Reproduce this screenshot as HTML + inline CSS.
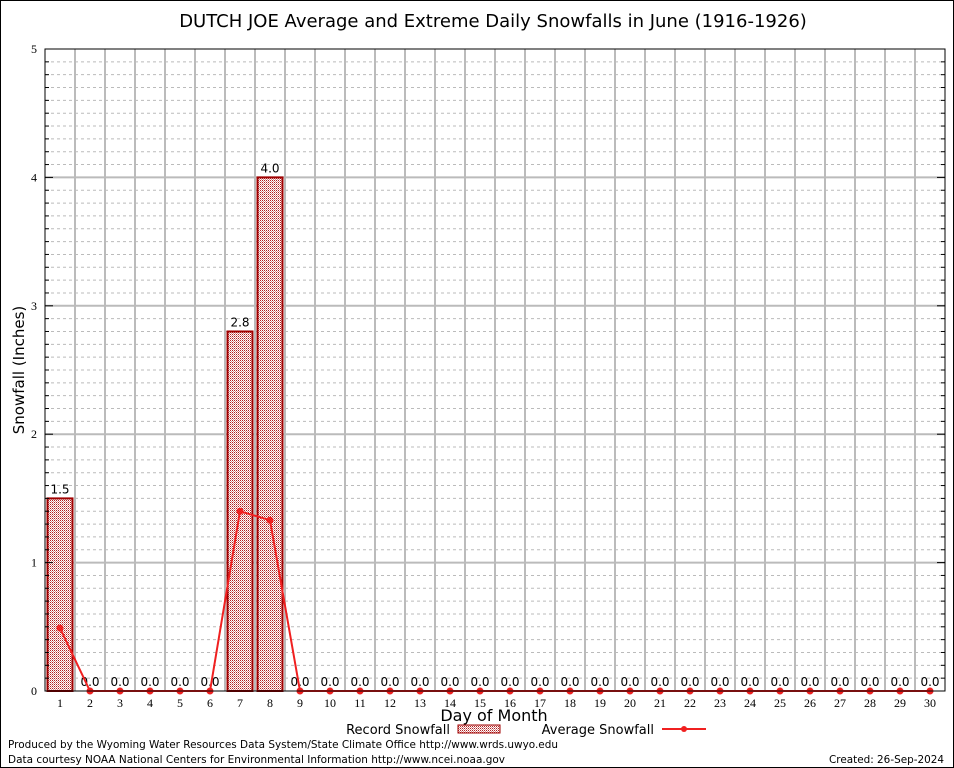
<!DOCTYPE html>
<html><head><meta charset="utf-8"><style>
body{margin:0;background:#fff;}
svg{display:block;font-family:"DejaVu Sans","Liberation Sans",sans-serif;}
</style></head><body>
<svg id="chart" width="954" height="768" viewBox="0 0 954 768">
<defs>
<pattern id="chk" width="2" height="2" patternUnits="userSpaceOnUse">
<rect width="2" height="2" fill="#fff"/><rect width="1" height="1" fill="#b02020"/><rect x="1" y="1" width="1" height="1" fill="#d89090"/>
</pattern>
</defs>
<rect x="0.5" y="0.5" width="953" height="767" fill="#fff" stroke="#000"/>
<text x="493" y="27" font-size="18" text-anchor="middle">DUTCH JOE Average and Extreme Daily Snowfalls in June (1916-1926)</text>
<g id="grid"></g>
<g id="bars"></g>
<g id="line"></g>
<rect x="45" y="49" width="900" height="642" fill="none" stroke="#000"/>
<g id="axes"></g>
<text x="24" y="370" font-size="15" text-anchor="middle" transform="rotate(-90 24 370)">Snowfall (Inches)</text>
<text x="494" y="721" font-size="16" text-anchor="middle">Day of Month</text>
<g>
<text x="450" y="734" font-size="13" text-anchor="end">Record Snowfall</text>
<rect x="458" y="725" width="42" height="8" fill="url(#chk)" stroke="#a00000"/>
<text x="654" y="734" font-size="13" text-anchor="end">Average Snowfall</text>
<line x1="662" y1="729" x2="706" y2="729" stroke="#f02020" stroke-width="2"/>
<circle cx="684" cy="729" r="3" fill="#f02020"/>
</g>
<text x="8" y="748" font-size="11" textLength="550" lengthAdjust="spacingAndGlyphs">Produced by the Wyoming Water Resources Data System/State Climate Office http://www.wrds.uwyo.edu</text>
<text x="8" y="763" font-size="11" textLength="497" lengthAdjust="spacingAndGlyphs">Data courtesy NOAA National Centers for Environmental Information http://www.ncei.noaa.gov</text>
<text x="829" y="763" font-size="11" textLength="115" lengthAdjust="spacingAndGlyphs">Created: 26-Sep-2024</text>
</svg>
<script>
const days=[1,2,3,4,5,6,7,8,9,10,11,12,13,14,15,16,17,18,19,20,21,22,23,24,25,26,27,28,29,30];
const recordSnow=[1.5,0,0,0,0,0,2.8,4.0,0,0,0,0,0,0,0,0,0,0,0,0,0,0,0,0,0,0,0,0,0,0];
const avgSnow=[0.49,0,0,0,0,0,1.40,1.33,0,0,0,0,0,0,0,0,0,0,0,0,0,0,0,0,0,0,0,0,0,0];
const yTicks=[0,1,2,3,4,5];
const NS='http://www.w3.org/2000/svg';
const L=45,R=945,T=49,B=691,yMax=5;
const xs=d=>L+(d-0.5)*(R-L)/days.length;
const ys=v=>B-v/yMax*(B-T);
function mk(tag,attrs,parent){const e=document.createElementNS(NS,tag);for(const k in attrs)e.setAttribute(k,attrs[k]);parent.appendChild(e);return e;}
const grid=document.getElementById('grid'),bars=document.getElementById('bars'),line=document.getElementById('line'),axes=document.getElementById('axes');
for(let i=1;i<yMax*10;i++){if(i%10===0)continue;const y=ys(i/10);
const g=mk('line',{x1:L,x2:R,y1:y,y2:y,stroke:'#bbb','stroke-dasharray':'3,3'},grid);


const t1=mk('line',{x1:L,x2:L+4,y1:y,y2:y,stroke:'#000'},axes);


const t2=mk('line',{x1:R-4,x2:R,y1:y,y2:y,stroke:'#000'},axes);

}
for(let k=1;k<days.length;k++){const x=L+k*(R-L)/days.length;
const g=mk('line',{x1:x,x2:x,y1:T,y2:B,stroke:'#bbb','stroke-width':2},grid);

}
yTicks.forEach(v=>{const y=ys(v);
if(v>0&&v<yMax){const g=mk('line',{x1:L,x2:R,y1:y,y2:y,stroke:'#bbb','stroke-width':2},grid);

}
const t=mk('text',{x:L-8,y:y+4,'font-size':12,'text-anchor':'end','font-family':'Liberation Serif,serif'},axes);t.textContent=v;


const tk=mk('line',{x1:L,x2:L+8,y1:y,y2:y,stroke:'#000'},axes);


const tk2=mk('line',{x1:R-8,x2:R,y1:y,y2:y,stroke:'#000'},axes);

});
days.forEach((d,i)=>{const x=xs(d);
const t=mk('text',{x:x,y:707,'font-size':12,'text-anchor':'middle','font-family':'Liberation Serif,serif'},axes);t.textContent=d;


const v=recordSnow[i];
if(v>0){const b=mk('rect',{x:x-12.5,y:ys(v),width:25,height:B-ys(v),fill:'url(#chk)',stroke:'#a00000','stroke-width':2},bars);

}
const lb=mk('text',{x:x,y:ys(v)-5,'font-size':12,'text-anchor':'middle'},bars);lb.textContent=v.toFixed(1);

});
const pts=days.map((d,i)=>xs(d)+','+ys(avgSnow[i])).join(' ');
const pl=mk('polyline',{points:pts,fill:'none',stroke:'#f02020','stroke-width':2},line);


days.forEach((d,i)=>{const c=mk('circle',{cx:xs(d),cy:ys(avgSnow[i]),r:3.5,fill:'#f02020'},line);

});
</script>
</body></html>
